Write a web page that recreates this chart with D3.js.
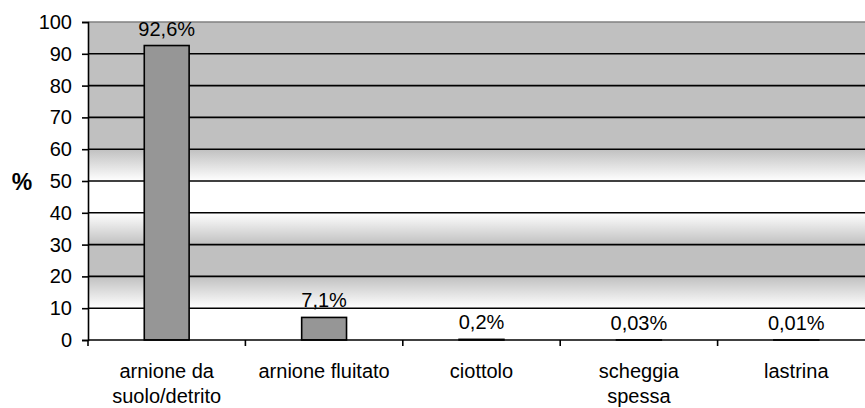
<!DOCTYPE html>
<html>
<head>
<meta charset="utf-8">
<script src="https://cdn.jsdelivr.net/npm/d3@7"></script>
<style>
  body { margin: 0; background: white; }
  text { font-family: Arial, "Liberation Sans", sans-serif; }
</style>
</head>
<body>
<div id="container"></div>
<script>
let w = 865;
let h = 408;

// DATA
let categories = ["arnione da suolo/detrito", "arnione fluitato", "ciottolo", "scheggia spessa", "lastrina"];
let labelLines = [["arnione da", "suolo/detrito"], ["arnione fluitato"], ["ciottolo"], ["scheggia", "spessa"], ["lastrina"]];
let values = [92.6, 7.1, 0.2, 0.03, 0.01];
let yTicks = [0, 10, 20, 30, 40, 50, 60, 70, 80, 90, 100];

let plotLeft = 88, plotRight = 875, plotTop = 22, plotBottom = 340;

let viz = d3.select("#container").append("svg")
  .attr("width", w)
  .attr("height", h)
  .style("display", "block")

let y = d3.scaleLinear().domain([0, 100]).range([plotBottom, plotTop]);
let x = d3.scaleBand().domain(categories).range([plotLeft, plotRight]).padding(0);

// background gradient of plot area (gray / white bands)
let grad = viz.append("defs").append("linearGradient")
  .attr("id", "bg")
  .attr("gradientUnits", "userSpaceOnUse")
  .attr("x1", 0).attr("x2", 0)
  .attr("y1", y(100)).attr("y2", y(0));
let stops = [[100, "#c0c0c0"], [60, "#c0c0c0"], [50, "#ffffff"], [40, "#ffffff"], [30, "#c0c0c0"], [20, "#c0c0c0"], [10, "#ffffff"], [0, "#ffffff"]];
stops.forEach(s => {
  grad.append("stop")
    .attr("offset", (100 - s[0]) / 100)
    .attr("stop-color", s[1]);
});

viz.append("rect")
  .attr("x", plotLeft)
  .attr("y", plotTop)
  .attr("width", plotRight - plotLeft)
  .attr("height", plotBottom - plotTop)
  .attr("fill", "url(#bg)");

// gridlines
viz.selectAll(".grid").data(yTicks.filter(t => t > 0 && t < 100)).enter()
  .append("line")
  .attr("class", "grid")
  .attr("x1", plotLeft).attr("x2", plotRight)
  .attr("y1", d => y(d)).attr("y2", d => y(d))
  .attr("stroke", "black")
  .attr("stroke-width", 1.6);

viz.append("line")
  .attr("x1", plotLeft).attr("x2", plotRight)
  .attr("y1", y(100)).attr("y2", y(100))
  .attr("stroke", "#808080")
  .attr("stroke-width", 1.6);

// bars
let barW = x.bandwidth() * 0.285;
viz.selectAll(".bar").data(values).enter()
  .append("rect")
  .attr("class", "bar")
  .attr("x", (d, i) => x(categories[i]) + x.bandwidth() / 2 - barW / 2)
  .attr("y", d => y(d))
  .attr("width", barW)
  .attr("height", d => y(0) - y(d))
  .attr("fill", "#969696")
  .attr("stroke", "black")
  .attr("stroke-width", 1.6);

// value labels
viz.selectAll(".val").data(values).enter()
  .append("text")
  .attr("class", "val")
  .attr("x", (d, i) => x(categories[i]) + x.bandwidth() / 2)
  .attr("y", d => y(d) - 10)
  .attr("text-anchor", "middle")
  .attr("font-size", 20)
  .text(d => String(d).replace(".", ",") + "%");

// y axis
let yAxis = viz.append("g")
  .attr("transform", "translate(" + plotLeft + ",0)")
  .call(d3.axisLeft(y).tickValues(yTicks).tickSize(6).tickPadding(10));
yAxis.selectAll("text").attr("font-size", 20).attr("fill", "black").style("font-family", "Arial, 'Liberation Sans', sans-serif");
yAxis.selectAll("line").attr("stroke", "black").attr("stroke-width", 1.6);
yAxis.select(".domain").attr("stroke", "black").attr("stroke-width", 1.6);

// x axis
let xAxisG = viz.append("g");
xAxisG.append("line")
  .attr("x1", plotLeft).attr("x2", plotRight)
  .attr("y1", plotBottom).attr("y2", plotBottom)
  .attr("stroke", "black")
  .attr("stroke-width", 1.6);
xAxisG.selectAll(".xtick").data(categories).enter()
  .append("line")
  .attr("class", "xtick")
  .attr("x1", d => x(d)).attr("x2", d => x(d))
  .attr("y1", plotBottom).attr("y2", plotBottom + 6)
  .attr("stroke", "black")
  .attr("stroke-width", 1.6);

xAxisG.selectAll(".xlab").data(categories).enter()
  .append("text")
  .attr("class", "xlab")
  .attr("x", d => x(d) + x.bandwidth() / 2)
  .attr("y", 378)
  .attr("text-anchor", "middle")
  .attr("font-size", 20)
  .each(function (d, i) {
    let t = d3.select(this);
    labelLines[i].forEach((line, j) => {
      t.append("tspan")
        .attr("x", x(d) + x.bandwidth() / 2)
        .attr("dy", j == 0 ? 0 : 25)
        .text(line);
    });
  });

// axis title
viz.append("text")
  .attr("x", 22)
  .attr("y", 190)
  .attr("text-anchor", "middle")
  .attr("font-size", 23)
  .attr("font-weight", "bold")
  .text("%");
</script>
</body>
</html>
